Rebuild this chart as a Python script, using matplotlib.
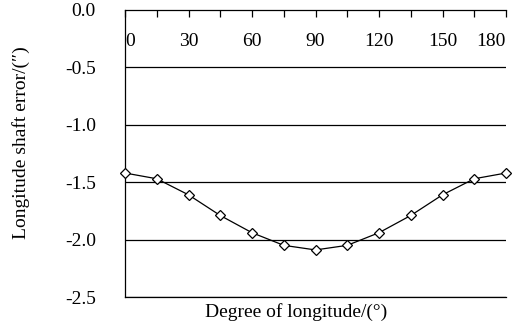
import matplotlib
matplotlib.use("Agg")
import matplotlib.pyplot as plt
import numpy as np

degrees = [0, 15, 30, 45, 60, 75, 90, 105, 120, 135, 150, 165, 180]
errors = [-1.42, -1.47, -1.61, -1.79, -1.94, -2.05, -2.09, -2.05, -1.94, -1.79, -1.61, -1.47, -1.42]
xtick_major = [0, 30, 60, 90, 120, 150, 180]
xtick_minor = [15, 45, 75, 105, 135, 165]
yticks = [0.0, -0.5, -1.0, -1.5, -2.0, -2.5]

plt.rcParams['font.family'] = ['Liberation Serif', 'DejaVu Serif']
plt.rcParams['font.size'] = 14

fig = plt.figure(figsize=(5.19, 3.30), dpi=100)
ax = fig.add_axes([125/519, 1-297/330, (506-125)/519, (297-10)/330])

ax.plot(degrees, errors, color='black', lw=0.9, marker='D', markersize=5.5,
        markerfacecolor='white', markeredgecolor='black', markeredgewidth=0.9, zorder=3, clip_on=False)

ax.set_xlim(0, 180)
ax.set_ylim(-2.5, 0.0)

ax.set_yticks(yticks)
ax.set_yticklabels([f"{v:.1f}" for v in yticks])
ax.tick_params(axis='y', length=0, pad=21)
for y in yticks[1:]:
    ax.axhline(y, color='black', lw=0.9, zorder=1)

ax.xaxis.tick_top()
ax.set_xticks(xtick_major)
ax.set_xticks(xtick_minor, minor=True)
ax.set_xticklabels([str(v) for v in xtick_major])
ax.tick_params(axis='x', which='both', direction='in', length=5, width=0.9, top=True, bottom=False, pad=-29)
labels = ax.get_xticklabels()
labels[0].set_ha('left')
labels[-1].set_ha('right')

for s in ['right']:
    ax.spines[s].set_visible(False)
for s in ['left', 'top', 'bottom']:
    ax.spines[s].set_linewidth(0.9)

fig.text(21/519, 1-143/330, "Longitude shaft error/(″)", rotation=90, ha='center', va='center', fontsize=14)
fig.text(296/519, 1-312/330, "Degree of longitude/(°)", ha='center', va='center', fontsize=14)

fig.savefig("out.png", dpi=100)
